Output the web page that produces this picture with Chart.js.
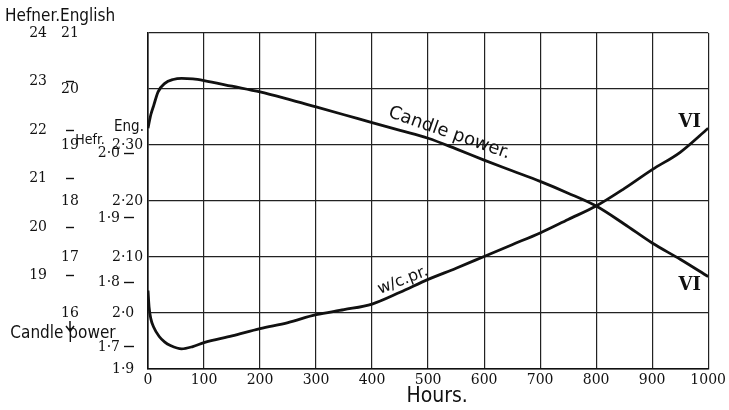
<!DOCTYPE html>
<html>
<head>
<meta charset="utf-8">
<script src="https://cdn.jsdelivr.net/npm/chart.js@4.4.1/dist/chart.umd.min.js"></script>
<style>
  html, body { margin: 0; padding: 0; background: #ffffff; }
  #wrap { width: 729px; height: 410px; }
</style>
</head>
<body>
<div id="wrap"><canvas id="c" width="729" height="410"></canvas></div>
<script>
// ---- data ----
const cpHours  = [0, 5, 10, 18, 30, 45, 60, 80, 100, 150, 200, 250, 300, 350, 400, 450, 500, 550, 600, 650, 700, 750, 800, 850, 900, 950, 1000];
const cpValues = [19.3, 19.54, 19.7, 19.95, 20.1, 20.17, 20.19, 20.18, 20.15, 20.05, 19.95, 19.82, 19.68, 19.54, 19.4, 19.26, 19.12, 18.93, 18.73, 18.54, 18.35, 18.14, 17.91, 17.59, 17.25, 16.96, 16.65];

const wcHours  = [0, 2, 5, 10, 20, 30, 40, 60, 80, 100, 150, 200, 250, 300, 350, 400, 450, 500, 550, 600, 650, 700, 750, 800, 850, 900, 950, 1000];
const wcValues = [2.04, 2.01, 1.99, 1.975, 1.958, 1.948, 1.942, 1.936, 1.94, 1.947, 1.959, 1.972, 1.983, 1.997, 2.006, 2.016, 2.037, 2.06, 2.08, 2.101, 2.122, 2.143, 2.167, 2.191, 2.222, 2.256, 2.287, 2.33];

const hourTicks = [0, 100, 200, 300, 400, 500, 600, 700, 800, 900, 1000];
const wcEngTickValues = [1.9, 2.0, 2.1, 2.2, 2.3, 2.4, 2.5];
const wcEngTickLabels = ['1·9', '2·0', '2·10', '2·20', '2·30', '', ''];
const wcHefTickValues = [1.7, 1.8, 1.9, 2.0];
const wcHefTickLabels = ['1·7', '1·8', '1·9', '2·0'];
const cpEngTickValues = [16, 17, 18, 19, 20, 21];
const cpHefTickValues = [19, 20, 21, 22, 23, 24];

// ---- styling ----
const SERIF = "'DejaVu Serif', 'Liberation Serif', serif";
const NARROW = "'Liberation Sans Narrow', 'DejaVu Sans Condensed', 'Liberation Sans', sans-serif";
const SANS = "'DejaVu Sans', 'Liberation Sans', sans-serif";
const INK = '#111111';

function fixedWidth(w) { return (s) => { s.width = w; }; }
function setTicks(vals) { return (s) => { s.ticks = vals.map(v => ({ value: v })); }; }
function near(a, b) { return Math.abs(a - b) < 1e-6; }

const annotations = {
  id: 'annotations',
  afterDraw(chart) {
    const ctx = chart.ctx;
    const xs = chart.scales.x, ys = chart.scales.y;
    ctx.save();
    ctx.fillStyle = INK;
    ctx.strokeStyle = INK;
    ctx.textBaseline = 'middle';

    // left-side headings
    ctx.font = "17px " + NARROW;
    ctx.textAlign = 'left';
    ctx.fillText('Hefner.English', 5, 17);
    ctx.font = "17px " + NARROW;
    ctx.textAlign = 'center';
    ctx.fillText('Candle power', 63, 334);
    ctx.font = "14px " + NARROW;
    ctx.fillText('Hefr.', 90, 140);
    ctx.font = "15px " + NARROW;
    ctx.fillText('Eng.', 129, 127);

    // little arrow under the 16
    ctx.lineWidth = 1.5;
    ctx.beginPath();
    ctx.moveTo(70, 321); ctx.lineTo(70, 330);
    ctx.moveTo(66, 326); ctx.lineTo(70, 331); ctx.lineTo(74, 326);
    ctx.stroke();

    // curve labels
    function rotText(txt, h, v, deg, font) {
      ctx.save();
      ctx.translate(xs.getPixelForValue(h), ys.getPixelForValue(v));
      ctx.rotate(deg * Math.PI / 180);
      ctx.font = font;
      ctx.textAlign = 'center';
      ctx.textBaseline = 'middle';
      ctx.fillText(txt, 0, 0);
      ctx.restore();
    }
    rotText('Candle power.', 538, 2.321, 19.2, "18px " + SANS);
    rotText('w/c.pr.', 455, 2.058, -21.6, "16px " + SANS);
    rotText('VI', 967, 2.341, 0, "bold 18px " + SERIF);
    rotText('VI', 967, 2.050, 0, "bold 18px " + SERIF);
    ctx.restore();
  }
};

new Chart(document.getElementById('c'), {
  type: 'line',
  data: {
    datasets: [
      {
        label: 'Candle power',
        data: cpHours.map((h, i) => ({ x: h, y: cpValues[i] })),
        yAxisID: 'yEngCp',
        borderColor: INK,
        borderWidth: 2.8,
        pointRadius: 0,
        cubicInterpolationMode: 'monotone',
        fill: false
      },
      {
        label: 'w/c.pr.',
        data: wcHours.map((h, i) => ({ x: h, y: wcValues[i] })),
        yAxisID: 'y',
        borderColor: INK,
        borderWidth: 2.8,
        pointRadius: 0,
        cubicInterpolationMode: 'monotone',
        fill: false
      }
    ]
  },
  options: {
    responsive: false,
    animation: false,
    devicePixelRatio: 1,
    layout: { padding: { top: 33, right: 20, bottom: 0, left: 0 } },
    plugins: { legend: { display: false }, tooltip: { enabled: false }, title: { display: false } },
    scales: {
      x: {
        type: 'linear',
        min: 0, max: 1000,
        afterBuildTicks: setTicks(hourTicks),
        afterFit: (s) => { s.height = 41; },
        grid: { color: '#222', lineWidth: 1.2, drawTicks: false },
        border: { display: true, color: INK, width: 1.6 },
        ticks: { color: INK, font: { family: SERIF, size: 14 }, padding: 3, maxRotation: 0, autoSkip: false, callback: (v) => String(v) },
        title: { display: true, text: '   Hours.', color: INK, font: { family: NARROW, size: 21 }, padding: { top: 0, bottom: 1 } }
      },
      y: {
        type: 'linear',
        position: 'left',
        weight: 0,
        min: 1.9, max: 2.5,
        afterBuildTicks: setTicks(wcEngTickValues),
        afterFit: fixedWidth(14),
        grid: { color: '#222', lineWidth: 1.2, drawTicks: false },
        border: { display: true, color: INK, width: 1.6 },
        ticks: {
          color: INK, font: { family: SERIF, size: 14 }, mirror: true, padding: -36, autoSkip: false,
          callback: (v) => { const i = wcEngTickValues.findIndex(t => near(t, v)); return i >= 0 ? wcEngTickLabels[i] : ''; }
        }
      },
      yHefWc: {
        type: 'linear',
        position: 'left',
        weight: 1,
        min: 1.6658, max: 2.1867,
        afterBuildTicks: setTicks(wcHefTickValues),
        afterFit: fixedWidth(51),
        grid: { drawOnChartArea: false, drawTicks: true, tickLength: 10, tickColor: INK, tickWidth: 1.4 },
        border: { display: false },
        ticks: {
          color: INK, font: { family: SERIF, size: 14 }, padding: 4, autoSkip: false,
          callback: (v) => { const i = wcHefTickValues.findIndex(t => near(t, v)); return i >= 0 ? wcHefTickLabels[i] : ''; }
        }
      },
      yEngCp: {
        type: 'linear',
        position: 'left',
        weight: 2,
        min: 15, max: 21,
        afterBuildTicks: setTicks(cpEngTickValues),
        afterFit: fixedWidth(9),
        grid: { display: false, drawOnChartArea: false, drawTicks: false },
        border: { display: false },
        ticks: { color: INK, font: { family: SERIF, size: 14 }, mirror: true, padding: -22, autoSkip: false, callback: (v) => String(v) }
      },
      yHefCp: {
        type: 'linear',
        position: 'left',
        weight: 3,
        min: 17.08, max: 24.0,
        afterBuildTicks: setTicks(cpHefTickValues),
        afterFit: fixedWidth(74),
        grid: {
          drawOnChartArea: false, drawTicks: true, tickLength: 8, tickWidth: 1.4,
          tickColor: (c) => (c.tick && near(c.tick.value, 24)) ? 'rgba(0,0,0,0)' : INK
        },
        border: { display: false },
        ticks: { color: INK, font: { family: SERIF, size: 14 }, padding: 19, autoSkip: false, callback: (v) => String(v) }
      }
    }
  },
  plugins: [annotations]
});
</script>
</body>
</html>
